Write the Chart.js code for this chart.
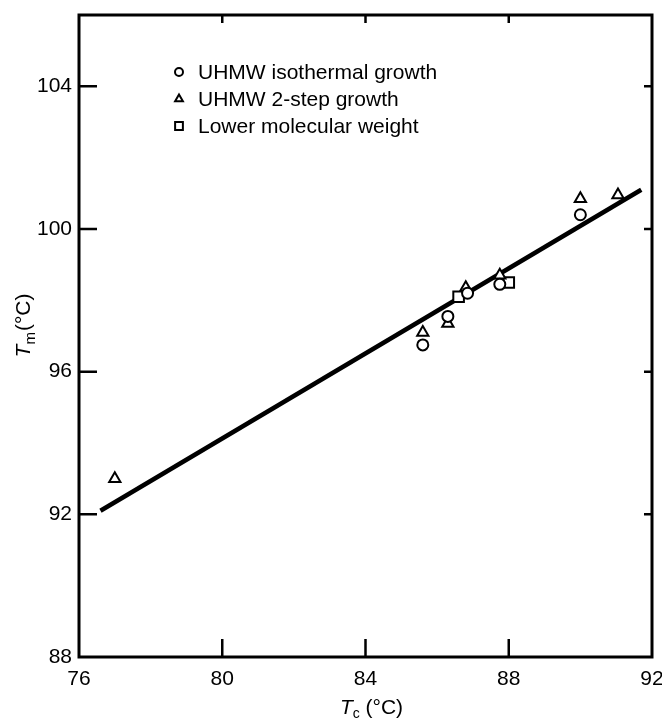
<!DOCTYPE html>
<html>
<head>
<meta charset="utf-8">
<script src="https://cdn.jsdelivr.net/npm/chart.js@4.4.1/dist/chart.umd.min.js"></script>
<style>
  body { margin: 0; background: #fff; }
  #wrap { width: 662px; height: 718px; }
</style>
</head>
<body>
<div id="wrap"><canvas id="mycanvas" width="662" height="718"></canvas></div>
<script>
// tick labels
var xTicks = [76, 80, 84, 88, 92];
var yTicks = [88, 92, 96, 100, 104];

// UHMW isothermal growth (circles)
var isoX = [85.6, 86.3, 86.85, 87.75, 90.0];
var isoY = [96.75, 97.55, 98.2, 98.45, 100.4];
// UHMW 2-step growth (triangles)
var twoStepX = [77.0, 85.6, 86.3, 86.8, 87.75, 90.0, 91.05];
var twoStepY = [93.0, 97.1, 97.35, 98.35, 98.7, 100.85, 100.95];
// Lower molecular weight (squares)
var lowX = [86.6, 88.0];
var lowY = [98.1, 98.5];
// fitted line
var fitX = [76.6, 91.7];
var fitY = [92.1, 101.1];

var FONT = "'Liberation Sans', Arial, sans-serif";

function pts(xs, ys) {
	var out = [];
	for (var i in xs) {
		out.push({x: xs[i], y: ys[i]});
	}
	return out;
}

// box, inward ticks, legend and axis titles
var framePlugin = {
	id: 'frame',
	beforeDatasetsDraw: function(chart) {
		var ctx = chart.ctx;
		var a = chart.chartArea;
		var xs = chart.scales.x, ys = chart.scales.y;
		ctx.save();
		ctx.strokeStyle = '#000';
		ctx.lineWidth = 3;
		ctx.strokeRect(a.left, a.top, a.right - a.left, a.bottom - a.top);
		ctx.lineWidth = 2.5;
		ctx.beginPath();
		xTicks.forEach(function(v) {
			if (v === xs.min || v === xs.max) return;
			var px = xs.getPixelForValue(v);
			ctx.moveTo(px, a.bottom); ctx.lineTo(px, a.bottom - 18);
			ctx.moveTo(px, a.top); ctx.lineTo(px, a.top + 8);
		});
		yTicks.forEach(function(v) {
			if (v === ys.min || v === ys.max) return;
			var py = ys.getPixelForValue(v);
			ctx.moveTo(a.left, py); ctx.lineTo(a.left + 18, py);
			ctx.moveTo(a.right, py); ctx.lineTo(a.right - 8, py);
		});
		ctx.stroke();
		ctx.restore();
	},
	afterDraw: function(chart) {
		var ctx = chart.ctx;
		var a = chart.chartArea;
		ctx.save();
		ctx.fillStyle = '#000';
		ctx.strokeStyle = '#000';

		// legend
		var lx = a.left + 100, ly = a.top + 57;
		chart.data.datasets.forEach(function(ds, i) {
			if (!ds.inLegend) return;
			var y = ly + i * 27;
			ctx.lineWidth = 2;
			ctx.fillStyle = '#fff';
			Chart.helpers.drawPoint(ctx, {pointStyle: ds.pointStyle, radius: ds.legendRadius, borderWidth: 2, rotation: 0}, lx, y);
			ctx.fillStyle = '#000';
			ctx.font = '21px ' + FONT;
			ctx.textBaseline = 'middle';
			ctx.textAlign = 'left';
			ctx.fillText(ds.label, lx + 19, y + 1);
		});

		// x title: T_c (°C)
		ctx.textBaseline = 'alphabetic';
		var cx = (a.left + a.right) / 2 + 6, by = 714;
		ctx.font = 'italic 21px ' + FONT;
		var wT = ctx.measureText('T').width;
		ctx.font = '14px ' + FONT;
		var wS = ctx.measureText('c').width;
		ctx.font = '21px ' + FONT;
		var wR = ctx.measureText(' (°C)').width;
		var sx = cx - (wT + wS + wR) / 2;
		ctx.textAlign = 'left';
		ctx.font = 'italic 21px ' + FONT;
		ctx.fillText('T', sx, by);
		ctx.font = '14px ' + FONT;
		ctx.fillText('c', sx + wT, by + 4);
		ctx.font = '21px ' + FONT;
		ctx.fillText(' (°C)', sx + wT + wS, by);

		// y title: T_m(°C), rotated
		ctx.translate(30, 326);
		ctx.rotate(-Math.PI / 2);
		ctx.font = 'italic 21px ' + FONT;
		wT = ctx.measureText('T').width;
		ctx.font = '15px ' + FONT;
		wS = ctx.measureText('m').width;
		ctx.font = '21px ' + FONT;
		wR = ctx.measureText('(°C)').width;
		sx = -(wT + wS + wR) / 2;
		ctx.font = 'italic 21px ' + FONT;
		ctx.fillText('T', sx, 0);
		ctx.font = '15px ' + FONT;
		ctx.fillText('m', sx + wT, 5);
		ctx.font = '21px ' + FONT;
		ctx.fillText('(°C)', sx + wT + wS + 1, 0);
		ctx.restore();
	}
};

var chartdata = {
	datasets: [
		{
			label: 'UHMW isothermal growth',
			data: pts(isoX, isoY),
			pointStyle: 'circle',
			pointRadius: 5.5,
			legendRadius: 4,
			inLegend: true,
			backgroundColor: '#fff',
			borderColor: '#000',
			borderWidth: 2
		},
		{
			label: 'UHMW 2-step growth',
			data: pts(twoStepX, twoStepY),
			pointStyle: 'triangle',
			pointRadius: 6.5,
			legendRadius: 4.5,
			inLegend: true,
			backgroundColor: '#fff',
			borderColor: '#000',
			borderWidth: 2
		},
		{
			label: 'Lower molecular weight',
			data: pts(lowX, lowY),
			pointStyle: 'rect',
			pointRadius: 7.5,
			legendRadius: 5.5,
			inLegend: true,
			backgroundColor: '#fff',
			borderColor: '#000',
			borderWidth: 2
		},
		{
			label: 'fit',
			data: pts(fitX, fitY),
			showLine: true,
			pointRadius: 0,
			borderColor: '#000',
			borderWidth: 4.5,
			fill: false,
			order: 10
		}
	]
};

var ctx = document.getElementById('mycanvas');

var Graph = new Chart(ctx, {
	type: 'scatter',
	data: chartdata,
	plugins: [framePlugin],
	options: {
		responsive: false,
		animation: false,
		events: [],
		layout: { padding: { left: 0, top: 15, right: 10, bottom: 0 } },
		plugins: {
			legend: { display: false },
			tooltip: { enabled: false }
		},
		scales: {
			x: {
				type: 'linear',
				min: 76,
				max: 92,
				afterBuildTicks: function(s) { s.ticks = xTicks.map(function(v) { return {value: v}; }); },
				afterFit: function(s) { s.height = 61; s.paddingLeft = 0; s.paddingRight = 0; },
				grid: { display: false, drawTicks: false },
				border: { display: false },
				ticks: { color: '#000', padding: 10, maxRotation: 0, font: { size: 21, family: FONT } }
			},
			y: {
				type: 'linear',
				min: 88,
				max: 106,
				afterBuildTicks: function(s) { s.ticks = yTicks.map(function(v) { return {value: v}; }); },
				afterFit: function(s) { s.width = 79; s.paddingTop = 0; s.paddingBottom = 0; },
				grid: { display: false, drawTicks: false },
				border: { display: false },
				ticks: { color: '#000', padding: 7, font: { size: 21, family: FONT } }
			}
		}
	}
});
</script>
</body>
</html>
